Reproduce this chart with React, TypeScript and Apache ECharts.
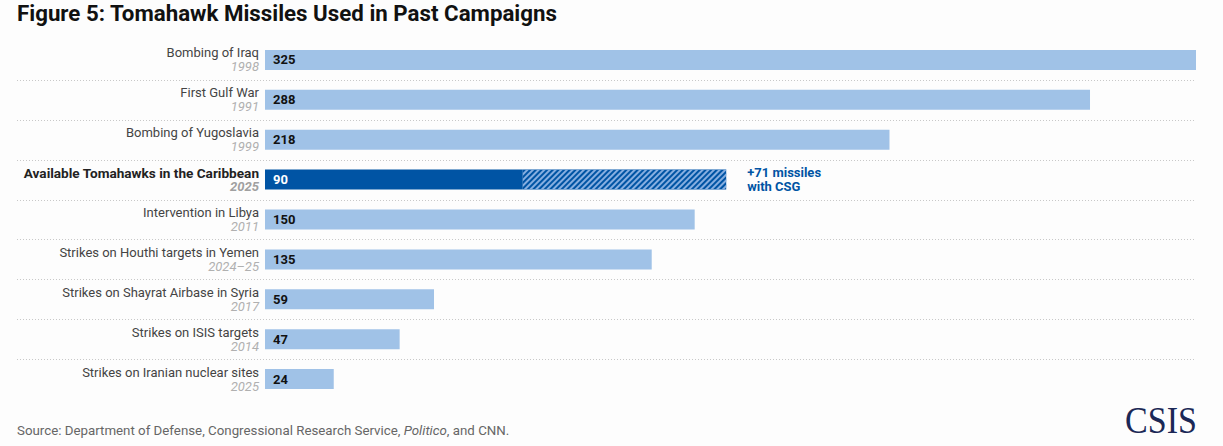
import React, { useEffect, useRef } from "react";
import * as echarts from "echarts";

const campaigns = [
  "Bombing of Iraq",
  "First Gulf War",
  "Bombing of Yugoslavia",
  "Available Tomahawks in the Caribbean",
  "Intervention in Libya",
  "Strikes on Houthi targets in Yemen",
  "Strikes on Shayrat Airbase in Syria",
  "Strikes on ISIS targets",
  "Strikes on Iranian nuclear sites",
];
const years = ["1998", "1991", "1999", "2025", "2011", "2024–25", "2017", "2014", "2025"];
const missiles = [325, 288, 218, 90, 150, 135, 59, 47, 24];
const extraWithCSG = [null, null, null, 71, null, null, null, null, null];
const highlightIndex = 3;
const xMax = 325;

const LIGHT = "#a0c2e7";
const DARK = "#0054a4";
const FONT = "Roboto, 'Noto Sans', sans-serif";

export default function App() {
  const ref = useRef<HTMLDivElement>(null);
  useEffect(() => {
    if (!ref.current) return;
    const chart = echarts.init(ref.current, undefined, { renderer: "svg" });
    const catLabels = campaigns.map((c, i) => `${c}||${years[i]}`);
    chart.setOption({
      animation: false,
      backgroundColor: "#fdfdfd",
      textStyle: { fontFamily: FONT },
      title: {
        text: "Figure 5: Tomahawk Missiles Used in Past Campaigns",
        left: 17,
        top: 2,
        padding: 0,
        textStyle: { fontFamily: FONT, fontSize: 22.3, fontWeight: "bold", color: "#111" },
      },
      graphic: [
        {
          type: "text",
          left: 17,
          top: 424,
          style: {
            rich: {
              a: { fontFamily: FONT, fontSize: 13.3, fill: "#666" },
              i: { fontFamily: FONT, fontSize: 13.3, fill: "#666", fontStyle: "italic" },
            },
            text: "{a|Source: Department of Defense, Congressional Research Service, }{i|Politico}{a|, and CNN.}",
          },
        },
        {
          type: "text",
          x: 1197,
          y: 439,
          scaleX: 0.92,
          style: {
            text: "CSIS",
            fontFamily: "'Liberation Serif', 'DejaVu Serif', serif",
            fontSize: 37,
            fill: "#1b2856",
            textAlign: "right",
            textVerticalAlign: "bottom",
          },
        },
      ],
      grid: [
        { left: 265, right: 27, top: 40, bottom: 47 },
        { left: 17, right: 27, top: 40, bottom: 47 },
      ],
      xAxis: [
        { type: "value", min: 0, max: xMax, show: false, gridIndex: 0 },
        { type: "value", min: 0, max: 1, show: false, gridIndex: 1 },
      ],
      yAxis: [
        {
          type: "category",
          inverse: true,
          gridIndex: 0,
          data: catLabels,
          axisLine: { show: false },
          axisTick: { show: false },
          splitLine: { show: false },
          axisLabel: {
            margin: 6,
            formatter: (v: string, idx: number) => {
              const [n, y] = v.split("||");
              return idx === highlightIndex ? `{nb|${n}}\n{yb|${y}}` : `{n|${n}}\n{y|${y}}`;
            },
            rich: {
              n: { fontFamily: FONT, fontSize: 13, color: "#444", lineHeight: 14, align: "right" },
              y: { fontFamily: FONT, fontSize: 13, color: "#b0b0b0", fontStyle: "italic", lineHeight: 14, align: "right" },
              nb: { fontFamily: FONT, fontSize: 13.6, color: "#222", fontWeight: "bold", lineHeight: 14, align: "right" },
              yb: { fontFamily: FONT, fontSize: 13, color: "#a0a0a0", fontStyle: "italic", fontWeight: "bold", lineHeight: 14, align: "right" },
            },
          },
        },
        {
          type: "category",
          inverse: true,
          gridIndex: 1,
          data: catLabels,
          show: false,
        },
      ],
      series: [
        {
          type: "custom",
          xAxisIndex: 1,
          yAxisIndex: 1,
          silent: true,
          data: campaigns.slice(0, -1).map((_, i) => [0, i]),
          encode: { x: 0, y: 1 },
          renderItem: (params: any, api: any) => {
            const c = api.coord([0, api.value(1)]);
            const h = api.size([0, 1])[1];
            const cs = params.coordSys;
            const y = Math.round(c[1] + h / 2) + 0.5;
            return {
              type: "line",
              shape: { x1: cs.x, y1: y, x2: cs.x + cs.width, y2: y },
              style: { stroke: "#c8c8c8", lineWidth: 1, lineDash: [1, 2] },
            };
          },
          z: 1,
        },
        {
          type: "bar",
          stack: "t",
          barWidth: 20,
          xAxisIndex: 0,
          yAxisIndex: 0,
          data: missiles.map((v, i) => ({
            value: v,
            itemStyle: { color: i === highlightIndex ? DARK : LIGHT },
            label: { color: i === highlightIndex ? "#fff" : "#111" },
          })),
          label: {
            show: true,
            position: "insideLeft",
            distance: 8,
            formatter: "{c}",
            fontFamily: FONT,
            fontSize: 13,
            fontWeight: "bold",
          },
          z: 2,
        },
        {
          type: "bar",
          stack: "t",
          barWidth: 20,
          xAxisIndex: 0,
          yAxisIndex: 0,
          data: extraWithCSG,
          itemStyle: {
            color: DARK,
            decal: {
              symbol: "rect",
              symbolSize: 1,
              color: "#86aee0",
              dashArrayX: [1, 0],
              dashArrayY: [2, 2],
              rotation: -Math.PI / 4,
            },
          },
          label: {
            show: true,
            position: "right",
            distance: 21,
            formatter: (p: any) => `+${p.value} missiles\nwith CSG`,
            fontFamily: FONT,
            fontSize: 13,
            fontWeight: "bold",
            color: DARK,
            lineHeight: 14,
            align: "left",
          },
          z: 2,
        },
      ],
    });
    return () => chart.dispose();
  }, []);
  return (
    <div
      ref={ref}
      style={{ position: "fixed", left: 0, top: 0, width: 1223, height: 446 }}
    />
  );
}
